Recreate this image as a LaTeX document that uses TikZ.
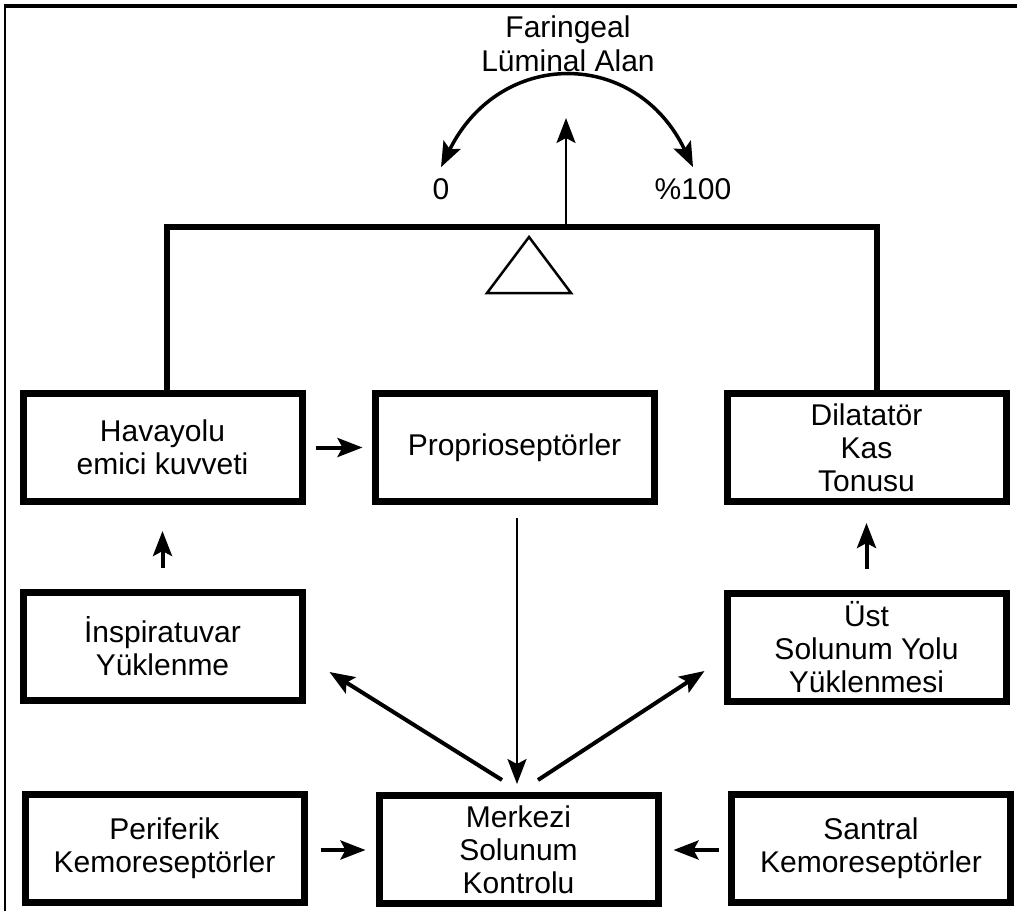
\documentclass[tikz,border=0pt]{standalone}
\usepackage{fontspec}
\setmainfont{Liberation Sans}
\usetikzlibrary{arrows.meta,calc}
\begin{document}
\begin{tikzpicture}[x=1pt,y=-1pt,
  box/.style={draw,line width=7pt,minimum width=279pt,minimum height=108pt,
    align=center,inner sep=0pt,font=\fontsize{30}{33}\selectfont},
  lab/.style={inner sep=0pt,align=center,font=\fontsize{30}{34}\selectfont},
  head/.style={-{Stealth[length=25pt,width=19pt,inset=5pt]}},
  thickarr/.style={head,line width=4pt},
  thinarr/.style={head,line width=2.5pt},
  barline/.style={line width=6pt},
  frameline/.style={line width=2.5pt}]
\useasboundingbox (0,0) rectangle (1017,911);
\draw[frameline] (5,911) -- (5,6);
\draw[line width=4pt] (3.75,6) -- (1017,6);

% labels at the top
\node[lab] (fla) at (568,44) {Faringeal\\Lüminal Alan};
\node[lab] (zero) at (441,189) {0};
\node[lab] (hundred) at (693,189) {\%100};

% boxes
\node[box] (hav) at (162.5,447.5) {Havayolu\\emici kuvveti};
\node[box] (pro) at (514.5,447.5) {Proprioseptörler};
\node[box] (dil) at (866.5,447.5) {Dilatatör\\Kas\\Tonusu};
\node[box] (insp) at (162.5,646.5) {İnspiratuvar\\Yüklenme};
\node[box] (ust) at (866.5,647.5) {Üst\\Solunum Yolu\\Yüklenmesi};
\node[box] (peri) at (164.5,848.5) {Periferik\\Kemoreseptörler};
\node[box] (mer) at (518.5,849.5) {Merkezi\\Solunum\\Kontrolu};
\node[box] (san) at (871,848.5) {Santral\\Kemoreseptörler};

% lever
\coordinate (barmid) at (566,227);
\coordinate (uptip) at (566,118);
\draw[barline] ($(hav.north)+(4.5,0)$) |- (barmid) -| ($(dil.north)+(10.5,0)$);
\draw[line width=2.5pt,line join=miter] (487,293) -- (529,237) -- (571,293) -- cycle;
\draw[thinarr] (barmid) -- (uptip);
\draw[line width=3.5pt,{Stealth[length=25pt,width=19pt,inset=5pt]}-{Stealth[length=25pt,width=19pt,inset=5pt]}]
  ([yshift=11pt]zero.north) .. controls (500,48) and (636,48) .. ([yshift=11pt]hundred.north);

% connectors
\draw[thickarr] ($(hav.east)+(10,0)$) -- ($(pro.west)+(-9,0)$);
\draw[thickarr] ($(insp.north)+(0,-21)$) -- ($(hav.south)+(0,26)$);
\draw[thickarr] ($(ust.north)+(0,-21)$) -- ($(dil.south)+(0,18)$);
\draw[thinarr] ($(pro.south)+(2.5,13)$) -- ($(mer.north)+(-1.5,-8)$);
\draw[thickarr] ($(mer.north)+(-16.5,-12)$) -- ($(insp.south east)+(24,-32)$);
\draw[thickarr] ($(mer.north)+(19.5,-12)$) -- ($(ust.south west)+(-19,-34)$);
\draw[thickarr] ($(peri.east)+(13,1.5)$) -- ($(mer.west)+(-10,0.5)$);
\draw[thickarr] ($(san.west)+(-9,1.5)$) -- ($(mer.east)+(12,0.5)$);
\end{tikzpicture}
\end{document}
